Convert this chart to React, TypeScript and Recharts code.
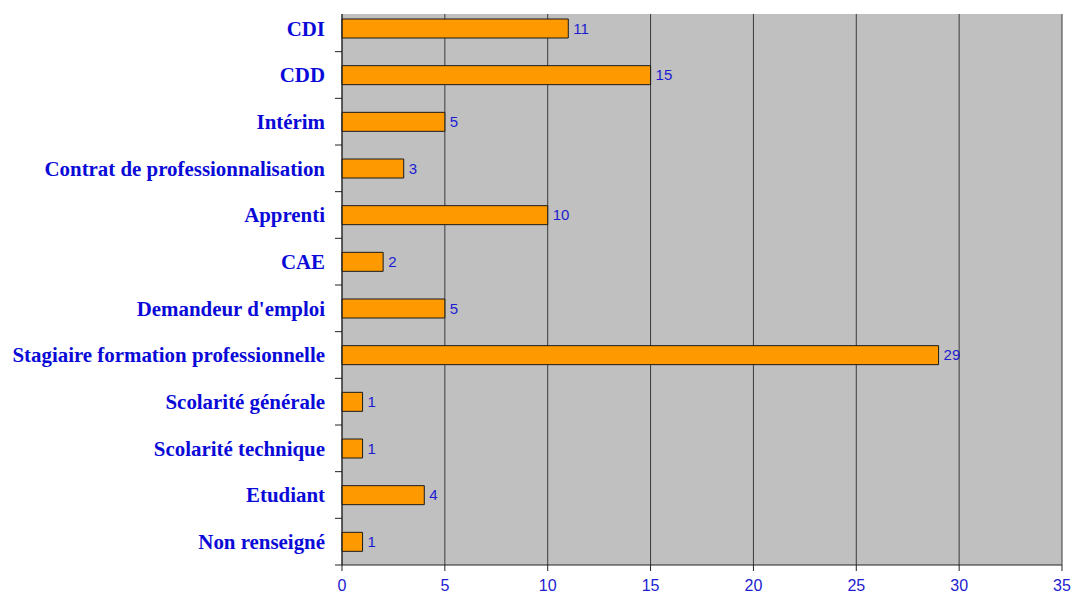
import React from 'react';
import { BarChart, Bar, XAxis, YAxis, CartesianGrid, LabelList } from 'recharts';

const categories: string[] = [
  'CDI',
  'CDD',
  'Intérim',
  'Contrat de professionnalisation',
  'Apprenti',
  'CAE',
  "Demandeur d'emploi",
  'Stagiaire formation professionnelle',
  'Scolarité générale',
  'Scolarité technique',
  'Etudiant',
  'Non renseigné',
];
const values: number[] = [11, 15, 5, 3, 10, 2, 5, 29, 1, 1, 4, 1];
const xTicks: number[] = [0, 5, 10, 15, 20, 25, 30, 35];

const data = categories.map((name, i) => ({ name, value: values[i] }));

const TICK_SIZE = 7;
const TICK_MARGIN = 10;

const CategoryTick = (props: any) => {
  const { x, y, payload, index } = props;
  const half = payload && typeof payload.offset === 'number' ? payload.offset : 0;
  const axisX = x + TICK_MARGIN + TICK_SIZE;
  return (
    <g>
      <text
        x={x}
        y={y}
        dy="0.355em"
        textAnchor="end"
        fill="#0a0ad8"
        fontSize={20.9}
        fontWeight="bold"
        fontFamily="Liberation Serif, Times New Roman, serif"
      >
        {payload.value}
      </text>
      {index === 0 && (
        <line x1={axisX - TICK_SIZE} x2={axisX} y1={y - half} y2={y - half} stroke="#222" />
      )}
      <line x1={axisX - TICK_SIZE} x2={axisX} y1={y + half} y2={y + half} stroke="#222" />
    </g>
  );
};

export default function App() {
  return (
    <div style={{ position: 'absolute', left: 0, top: 0, width: 1072, height: 597, background: '#fff' }}>
      <BarChart
        width={1072}
        height={597}
        data={data}
        layout="vertical"
        margin={{ top: 5, right: 10, bottom: 0, left: 0 }}
        barSize={19}
      >
        <CartesianGrid horizontal={false} vertical={true} fill="#C0C0C0" stroke="#3a3a3a" strokeOpacity={1} />
        <XAxis
          type="number"
          domain={[0, 35]}
          ticks={xTicks}
          interval={0}
          height={32}
          tickSize={6}
          tickMargin={9}
          axisLine={{ stroke: '#222' }}
          tickLine={{ stroke: '#222' }}
          tick={{ fill: '#1c1cd0', fontSize: 16, fontFamily: 'Liberation Sans, Arial, sans-serif' }}
        />
        <YAxis
          type="category"
          dataKey="name"
          width={342}
          interval={0}
          tickLine={false}
          axisLine={{ stroke: '#222' }}
          tickSize={TICK_SIZE}
          tickMargin={TICK_MARGIN}
          tick={CategoryTick}
        />
        <Bar
          dataKey="value"
          fill="#FF9900"
          stroke="#1a1a1a"
          strokeWidth={1}
          isAnimationActive={false}
        >
          <LabelList
            dataKey="value"
            position="right"
            offset={5}
            fill="#1c1cd0"
            fontSize={15}
            fontFamily="Liberation Sans, Arial, sans-serif"
          />
        </Bar>
      </BarChart>
      <div style={{ position: 'absolute', left: 0, top: 0, width: 1072, height: 14, background: '#fff' }} />
    </div>
  );
}
